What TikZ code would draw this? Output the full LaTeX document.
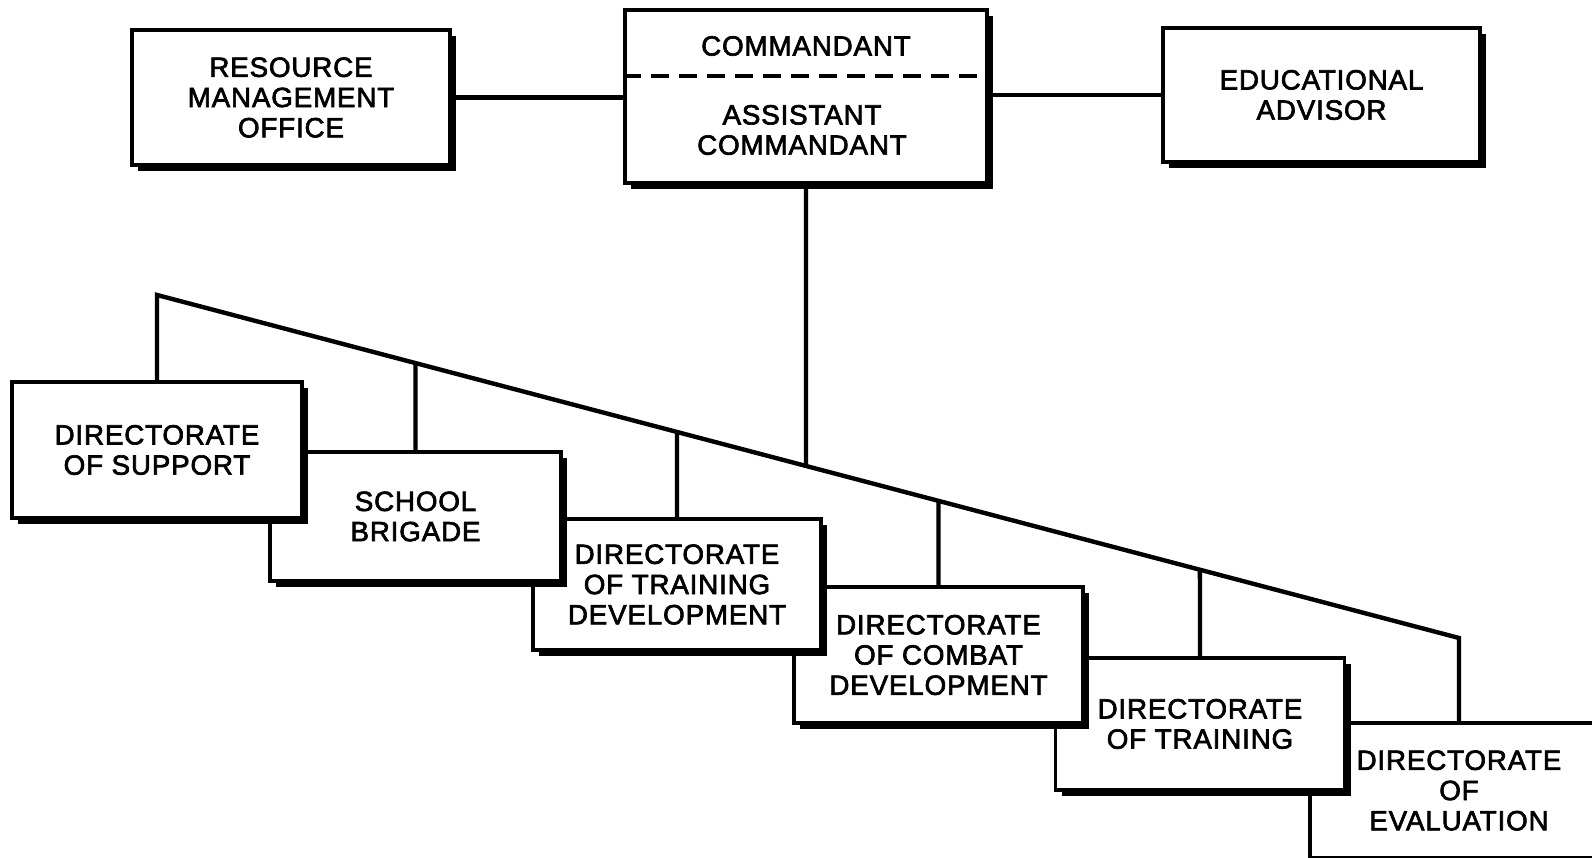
\documentclass[tikz,border=0pt]{standalone}
\usepackage{fontspec}
\newfontfamily\lettering{Liberation Sans}[LetterSpace=3,FakeBold=2.4]
\usepackage{tikz}
\usetikzlibrary{shadows}

\begin{document}
\begin{tikzpicture}[
	office/.style={draw,line width=0.9pt,fill=white,align=center,inner sep=0pt,
		drop shadow={shadow xshift=0.6mm,shadow yshift=-0.6mm,fill=black,opacity=1},
		font=\lettering\fontsize{7.9}{8.6}\selectfont},
	txt/.style={align=center,inner sep=0pt,font=\lettering\fontsize{7.9}{8.6}\selectfont},
	link/.style={line width=1.25pt}]
	
	\useasboundingbox (0,0) rectangle (15.92,8.58);
	
	\coordinate (bend) at (1.57,5.63);  % upper end of the slanted line
	\coordinate (tail) at (14.59,2.20); % lower end, above evaluation
	\coordinate (sep) at (8.06,7.82);   % dashed division
	
	% staircase, back to front
	\node[office,minimum width=2.98cm,minimum height=1.35cm] (eva) at (14.59,0.675)
		{DIRECTORATE\\OF\\EVALUATION};
	\node[office,minimum width=2.89cm,minimum height=1.32cm] (trn) at (12.00,1.34)
		{DIRECTORATE\\OF TRAINING};
	\node[office,minimum width=2.89cm,minimum height=1.36cm] (cdv) at (9.385,2.03)
		{DIRECTORATE\\OF COMBAT\\DEVELOPMENT};
	\node[office,minimum width=2.88cm,minimum height=1.31cm] (tdv) at (6.77,2.735)
		{DIRECTORATE\\OF TRAINING\\DEVELOPMENT};
	\node[office,minimum width=2.91cm,minimum height=1.29cm] (brg) at (4.155,3.415)
		{SCHOOL\\BRIGADE};
	\node[office,minimum width=2.90cm,minimum height=1.36cm] (sup) at (1.57,4.08)
		{DIRECTORATE\\OF SUPPORT};
	
	% top row
	\node[office,minimum width=3.18cm,minimum height=1.35cm] (rmo) at (2.91,7.605)
		{RESOURCE\\MANAGEMENT\\OFFICE};
	\node[office,minimum width=3.62cm,minimum height=1.73cm] (cmd) at (8.06,7.615) {};
	\node[office,minimum width=3.17cm,minimum height=1.34cm] (eda) at (13.215,7.63)
		{EDUCATIONAL\\ADVISOR};
	
	\node[txt] (cmdtop) at (8.06,8.12) {COMMANDANT};
	\node[txt] (cmdbot) at (8.02,7.28) {ASSISTANT\\COMMANDANT};
	\draw[line width=0.9pt,dash pattern=on 0.18cm off 0.1cm]
		(cmd.west |- sep) -- (cmd.east |- sep);
	
	\draw[link] (rmo.east) -- (rmo.east -| cmd.west);
	\draw[link] (cmd.east |- eda.west) -- (eda.west);
	
	\draw[link] (sup.north) -- (bend) -- (tail) -- (eva.north);
	\draw[link] (cmd.south) -- (intersection of bend--tail and cmd.south--cmd.north);
	\draw[link] (brg.north) -- (intersection of bend--tail and brg.north--brg.south);
	\draw[link] (tdv.north) -- (intersection of bend--tail and tdv.north--tdv.south);
	\draw[link] (cdv.north) -- (intersection of bend--tail and cdv.north--cdv.south);
	\draw[link] (trn.north) -- (intersection of bend--tail and trn.north--trn.south);
	
\end{tikzpicture}
\end{document}
